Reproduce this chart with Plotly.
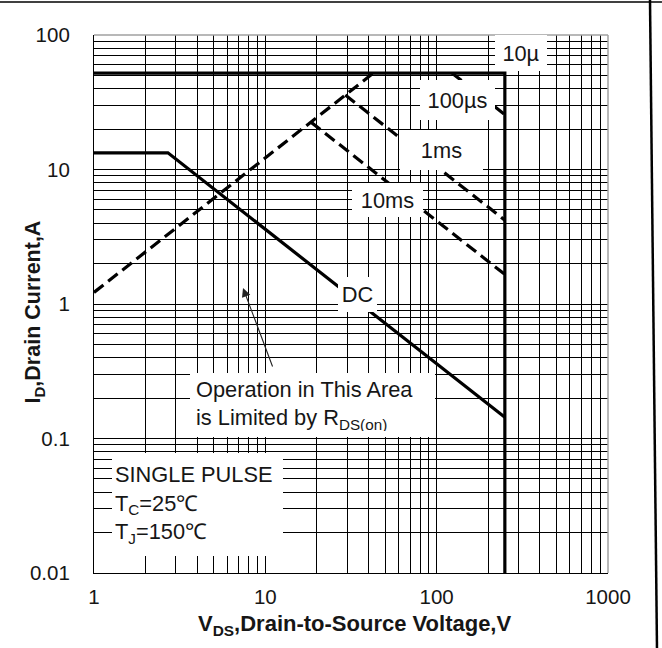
import numpy as np
import plotly.graph_objects as go

# Safe operating area boundaries: V_DS in volts, I_D in amperes
rds_v = [1.0, 42.6]          # R_DS(on) limit (dashed)
rds_i = [1.22, 52.0]
idm_v = [1.0, 250.0, 250.0]  # pulsed current limit and V_DS(max)
idm_i = [52.0, 52.0, 0.01]
us100_v = [123.0, 250.0]     # 100 us pulse
us100_i = [52.0, 25.6]
ms1_v = [29.3, 250.0]        # 1 ms pulse
ms1_i = [35.8, 4.2]
ms10_v = [18.45, 250.0]      # 10 ms pulse
ms10_i = [22.5, 1.66]
dc_v = [1.0, 2.7, 250.0]     # DC operation
dc_i = [13.3, 13.3, 0.144]

x_decades = [1, 10, 100, 1000]
x_tick_labels = ["1", "10", "100", "1000"]
y_decades = [0.01, 0.1, 1, 10, 100]
y_tick_labels = ["0.01", "0.1", "1", "10", "100"]

FONT = "Liberation Sans, Arial, sans-serif"
INK = "#161616"


def grid_ticks(decades, labels):
    vals, texts = [], []
    for k, d in enumerate(decades):
        vals.append(d)
        texts.append(labels[k])
        if k < len(decades) - 1:
            for m in range(2, 10):
                vals.append(d * m)
                texts.append("")
    return vals, texts


xv, xt = grid_ticks(x_decades, x_tick_labels)
yv, yt = grid_ticks(y_decades, y_tick_labels)

fig = go.Figure()

solid = dict(color="black", width=3.2)
dashed = dict(color="black", width=3.2, dash="12px,6px")

fig.add_trace(go.Scatter(x=rds_v, y=rds_i, mode="lines", line=dashed))
fig.add_trace(go.Scatter(x=us100_v, y=us100_i, mode="lines", line=dashed))
fig.add_trace(go.Scatter(x=ms1_v, y=ms1_i, mode="lines", line=dashed))
fig.add_trace(go.Scatter(x=ms10_v, y=ms10_i, mode="lines", line=dashed))
fig.add_trace(go.Scatter(x=dc_v, y=dc_i, mode="lines", line=solid))
fig.add_trace(go.Scatter(x=idm_v, y=idm_i, mode="lines", line=solid))

# Labels sit on white boxes that hide the grid and curves beneath them
labels = [
    # text, V, I, box width, box height, inner padding, align
    ("10µ", 311, 74, 52, 36, 0, "center"),
    ("100µs", 132.5, 32.9, 75, 40, 0, "center"),
    ("1ms", 106.8, 14.0, 83, 40, 0, "center"),
    ("10ms", 51.7, 5.93, 71, 34, 0, "center"),
    ("DC", 34.5, 1.18, 39, 35, 0, "center"),
    ("Operation in This Area<br>is Limited by R<sub>DS(on)</sub>", 18.9, 0.1775, 245, 64, 6, "left"),
    ("SINGLE PULSE<br>T<sub>C</sub>=25℃<br>T<sub>J</sub>=150℃", 4.02, 0.0325, 171, 103, 3, "left"),
]
for text, v, i, w, h, pad, al in labels:
    fig.add_annotation(
        x=np.log10(v), y=np.log10(i), xref="x", yref="y",
        text=text, showarrow=False, width=w - 2 * pad, height=h - 2 * pad, align=al,
        valign="middle", bgcolor="white", borderpad=pad, borderwidth=0,
        font=dict(family=FONT, size=21.8, color=INK),
    )

# Arrow pointing into the R_DS(on)-limited region
fig.add_annotation(
    x=np.log10(7.41), y=np.log10(1.316), ax=np.log10(11.1), ay=np.log10(0.334),
    xref="x", yref="y", axref="x", ayref="y", text="", showarrow=True,
    arrowhead=2, arrowsize=1.6, arrowwidth=1.1, arrowcolor="#222",
)

# Axis titles
fig.add_annotation(
    x=0.506, y=-0.0967, xref="paper", yref="paper", showarrow=False,
    text="<b>V<sub>DS</sub>,Drain-to-Source Voltage,V</b>",
    font=dict(family=FONT, size=22, color=INK), xanchor="center", yanchor="middle",
)
fig.add_annotation(
    x=-0.1148, y=0.486, xref="paper", yref="paper", showarrow=False, textangle=-90,
    text="<b>I<sub>D</sub>,Drain Current,A</b>",
    font=dict(family=FONT, size=21.5, color=INK), xanchor="center", yanchor="middle",
)

shapes = [
    # light frame on the top and right of the plot area
    dict(type="line", xref="paper", yref="paper", x0=0, x1=1, y0=1, y1=1,
         line=dict(color="#a0a0a0", width=1.5), layer="above"),
    dict(type="line", xref="paper", yref="paper", x0=1, x1=1, y0=0, y1=1,
         line=dict(color="#a0a0a0", width=1.5), layer="above"),
    # page border
    dict(type="line", xref="paper", yref="paper", x0=-0.1829, x1=1.105, y0=1.0613, y1=1.0613,
         line=dict(color="black", width=1.5), layer="above"),
    dict(type="line", xref="paper", yref="paper", x0=1.0817, x1=1.0953, y0=1.0651, y1=-0.1394,
         line=dict(color="black", width=2.5), layer="above"),
]

fig.update_layout(
    width=662, height=648,
    margin=dict(l=94, r=54, t=35, b=75),
    paper_bgcolor="white", plot_bgcolor="white",
    showlegend=False, shapes=shapes,
    font=dict(family=FONT, size=20, color=INK),
)
fig.update_xaxes(
    type="log", range=[0, 3], tickmode="array", tickvals=xv, ticktext=xt,
    showgrid=True, gridcolor="black", gridwidth=1, zeroline=False,
    showline=True, linecolor="black", linewidth=1.2, ticks="",
    ticklabelstandoff=5, tickfont=dict(family=FONT, size=20.5, color=INK),
)
fig.update_yaxes(
    type="log", range=[-2, 2], tickmode="array", tickvals=yv, ticktext=yt,
    showgrid=True, gridcolor="black", gridwidth=1, zeroline=False,
    showline=True, linecolor="black", linewidth=1.2, ticks="",
    ticklabelstandoff=19, tickfont=dict(family=FONT, size=20.5, color=INK),
)

fig.write_html("out.html")
